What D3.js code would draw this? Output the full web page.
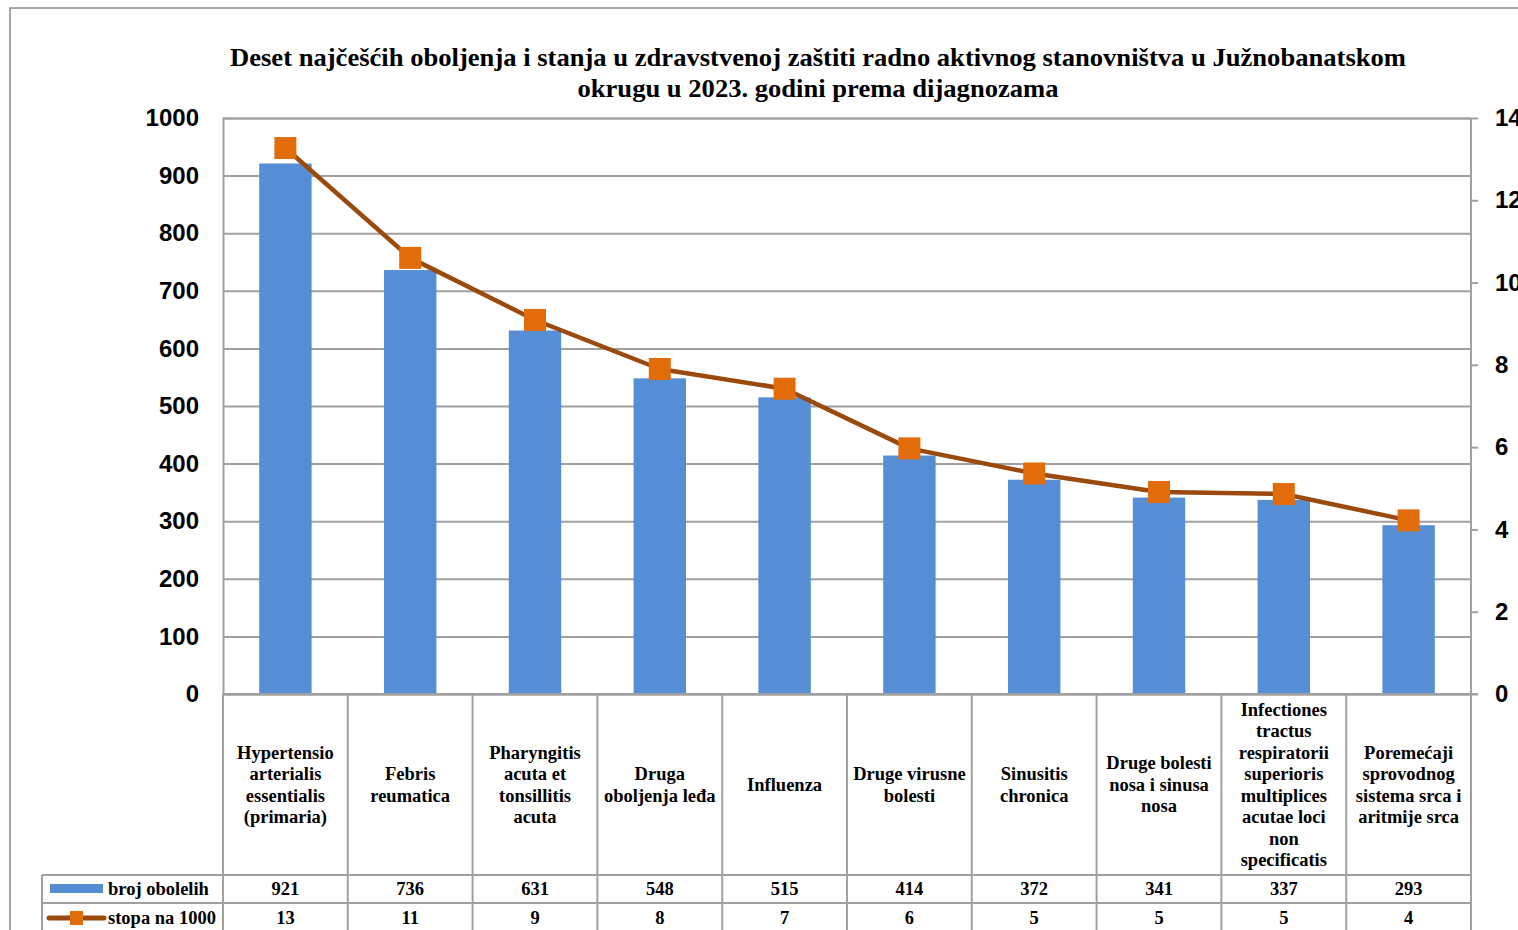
<!DOCTYPE html>
<html>
<head>
<meta charset="utf-8">
<script src="https://cdn.jsdelivr.net/npm/d3@7/dist/d3.min.js"></script>
<style>
  html, body { margin: 0; padding: 0; background: #fff; }
  svg { display: block; }
</style>
</head>
<body>
<svg id="chart" width="1518" height="930"></svg>
<script>
// ---------- data ----------
const categories = [
  ["Hypertensio", "arterialis", "essentialis", "(primaria)"],
  ["Febris", "reumatica"],
  ["Pharyngitis", "acuta et", "tonsillitis", "acuta"],
  ["Druga", "oboljenja leđa"],
  ["Influenza"],
  ["Druge virusne", "bolesti"],
  ["Sinusitis", "chronica"],
  ["Druge bolesti", "nosa i sinusa", "nosa"],
  ["Infectiones", "tractus", "respiratorii", "superioris", "multiplices", "acutae loci", "non", "specificatis"],
  ["Poremećaji", "sprovodnog", "sistema srca i", "aritmije srca"]
];
const brojObolelih = [921, 736, 631, 548, 515, 414, 372, 341, 337, 293];
const stopaNa1000 = [13.27, 10.6, 9.09, 7.9, 7.42, 5.97, 5.36, 4.91, 4.86, 4.22];
const leftTicks = [0, 100, 200, 300, 400, 500, 600, 700, 800, 900, 1000];
const rightTicks = [0, 2, 4, 6, 8, 10, 12, 14];
const seriesNames = ["broj obolelih", "stopa na 1000"];
const titleLines = [
  "Deset najčešćih oboljenja i stanja u zdravstvenoj zaštiti radno aktivnog stanovništva u Južnobanatskom",
  "okrugu u 2023. godini prema dijagnozama"
];

// ---------- layout ----------
const svg = d3.select("#chart");
const plot = { left: 223, right: 1471, top: 118, bottom: 694 };
const gridColor = "#a0a0a0";
const serif = "'Liberation Serif', 'Times New Roman', serif";
const sans = "'Liberation Sans', Arial, sans-serif";
const barColor = "#558ed5";
const lineColor = "#9a4a0c";
const markerColor = "#e36c0a";
const tableFont = 18.5;

const idx = d3.range(categories.length);
const x = d3.scaleBand().domain(idx).range([plot.left, plot.right]).paddingInner(0.58).paddingOuter(0.29);
const yL = d3.scaleLinear().domain([0, 1000]).range([plot.bottom, plot.top]);
const yR = d3.scaleLinear().domain([0, 14]).range([plot.bottom, plot.top]);

// outer chart border
svg.append("path")
  .attr("d", "M10,930 L10,8 L1518,8")
  .attr("fill", "none").attr("stroke", "#8c8c8c").attr("stroke-width", 1.5);

// title
svg.append("text")
  .attr("x", 818).attr("y", 66)
  .attr("text-anchor", "middle")
  .attr("font-family", serif).attr("font-weight", "bold").attr("font-size", 26)
  .attr("textLength", 1176).attr("lengthAdjust", "spacingAndGlyphs")
  .text(titleLines[0]);
svg.append("text")
  .attr("x", 818).attr("y", 97)
  .attr("text-anchor", "middle")
  .attr("font-family", serif).attr("font-weight", "bold").attr("font-size", 26)
  .attr("textLength", 481).attr("lengthAdjust", "spacingAndGlyphs")
  .text(titleLines[1]);

// left axis with gridlines
const gL = svg.append("g").attr("transform", `translate(${plot.left},0)`)
  .call(d3.axisLeft(yL).tickValues(leftTicks).tickSize(-(plot.right - plot.left)).tickPadding(24).tickFormat(d3.format("d")));
gL.select(".domain").attr("stroke", gridColor).attr("stroke-width", 2);
gL.selectAll(".tick line").attr("stroke", gridColor).attr("stroke-width", 2);
gL.selectAll(".tick text")
  .attr("font-family", sans).attr("font-weight", "bold").attr("font-size", 24).attr("fill", "#000");

// right axis
const gR = svg.append("g").attr("transform", `translate(${plot.right},0)`)
  .call(d3.axisRight(yR).tickValues(rightTicks).tickSize(7).tickPadding(17).tickFormat(d3.format("d")));
gR.select(".domain").remove();
gR.selectAll(".tick line").attr("stroke", gridColor).attr("stroke-width", 2);
gR.selectAll(".tick text")
  .attr("font-family", sans).attr("font-weight", "bold").attr("font-size", 24).attr("fill", "#000");
svg.append("line")
  .attr("x1", plot.right).attr("x2", plot.right)
  .attr("y1", yR(14)).attr("y2", 930)
  .attr("stroke", gridColor).attr("stroke-width", 2);

// bars
svg.append("g").selectAll("rect").data(brojObolelih).join("rect")
  .attr("x", (d, i) => x(i))
  .attr("width", x.bandwidth())
  .attr("y", d => yL(d))
  .attr("height", d => yL(0) - yL(d))
  .attr("fill", barColor);

// baseline over bars
svg.append("line")
  .attr("x1", plot.left).attr("x2", plot.right + 7)
  .attr("y1", yL(0)).attr("y2", yL(0))
  .attr("stroke", gridColor).attr("stroke-width", 2);

// line series
const cx = i => x(i) + x.bandwidth() / 2;
svg.append("path")
  .datum(stopaNa1000)
  .attr("d", d3.line().x((d, i) => cx(i)).y(d => yR(d)))
  .attr("fill", "none").attr("stroke", lineColor).attr("stroke-width", 4.5).attr("stroke-linejoin", "round");
const ms = 22;
svg.append("g").selectAll("rect").data(stopaNa1000).join("rect")
  .attr("x", (d, i) => cx(i) - ms / 2)
  .attr("y", d => yR(d) - ms / 2)
  .attr("width", ms).attr("height", ms)
  .attr("fill", markerColor);

// ---------- data table ----------
const rowTop = 875, rowMid = 903, rowBottom = 932;
const legendLeft = 42;
const step = x.step();
const tbl = svg.append("g");
d3.range(categories.length + 1).forEach(i => {
  const xx = plot.left + i * step;
  tbl.append("line").attr("x1", xx).attr("x2", xx).attr("y1", yL(0)).attr("y2", 930)
    .attr("stroke", gridColor).attr("stroke-width", 2);
});
[rowTop, rowMid, rowBottom].forEach(yy => {
  tbl.append("line").attr("x1", legendLeft).attr("x2", plot.right).attr("y1", yy).attr("y2", yy)
    .attr("stroke", gridColor).attr("stroke-width", 2);
});
tbl.append("line").attr("x1", legendLeft).attr("x2", legendLeft).attr("y1", rowTop).attr("y2", 930)
  .attr("stroke", gridColor).attr("stroke-width", 2);

// category labels
const lh = 21.5;
const labelCenter = (yL(0) + rowTop) / 2;
categories.forEach((lines, i) => {
  const t = tbl.append("text")
    .attr("text-anchor", "middle")
    .attr("font-family", serif).attr("font-weight", "bold").attr("font-size", tableFont).attr("fill", "#000");
  const y0 = labelCenter - (lines.length - 1) * lh / 2;
  lines.forEach((ln, j) => {
    t.append("tspan").attr("x", cx(i)).attr("y", y0 + j * lh).attr("dy", "0.35em").text(ln);
  });
});

// values rows
const fmtRate = d3.format(".0f");
tbl.selectAll(".v1").data(brojObolelih).join("text")
  .attr("x", (d, i) => cx(i)).attr("y", (rowTop + rowMid) / 2).attr("dy", "0.35em")
  .attr("text-anchor", "middle")
  .attr("font-family", serif).attr("font-weight", "bold").attr("font-size", tableFont)
  .text(d => d);
tbl.selectAll(".v2").data(stopaNa1000).join("text")
  .attr("x", (d, i) => cx(i)).attr("y", (rowMid + rowBottom) / 2).attr("dy", "0.35em")
  .attr("text-anchor", "middle")
  .attr("font-family", serif).attr("font-weight", "bold").attr("font-size", tableFont)
  .text(d => fmtRate(d));

// legend keys
tbl.append("rect").attr("x", 50).attr("y", 884).attr("width", 53).attr("height", 9).attr("fill", barColor);
tbl.append("text").attr("x", 108).attr("y", (rowTop + rowMid) / 2).attr("dy", "0.35em")
  .attr("font-family", serif).attr("font-weight", "bold").attr("font-size", tableFont).text(seriesNames[0]);
tbl.append("line").attr("x1", 49).attr("x2", 104).attr("y1", 918).attr("y2", 918)
  .attr("stroke", lineColor).attr("stroke-width", 5).attr("stroke-linecap", "round");
tbl.append("rect").attr("x", 70).attr("y", 911).attr("width", 13).attr("height", 14).attr("fill", markerColor);
tbl.append("text").attr("x", 108).attr("y", (rowMid + rowBottom) / 2).attr("dy", "0.35em")
  .attr("font-family", serif).attr("font-weight", "bold").attr("font-size", tableFont).text(seriesNames[1]);
</script>
</body>
</html>
